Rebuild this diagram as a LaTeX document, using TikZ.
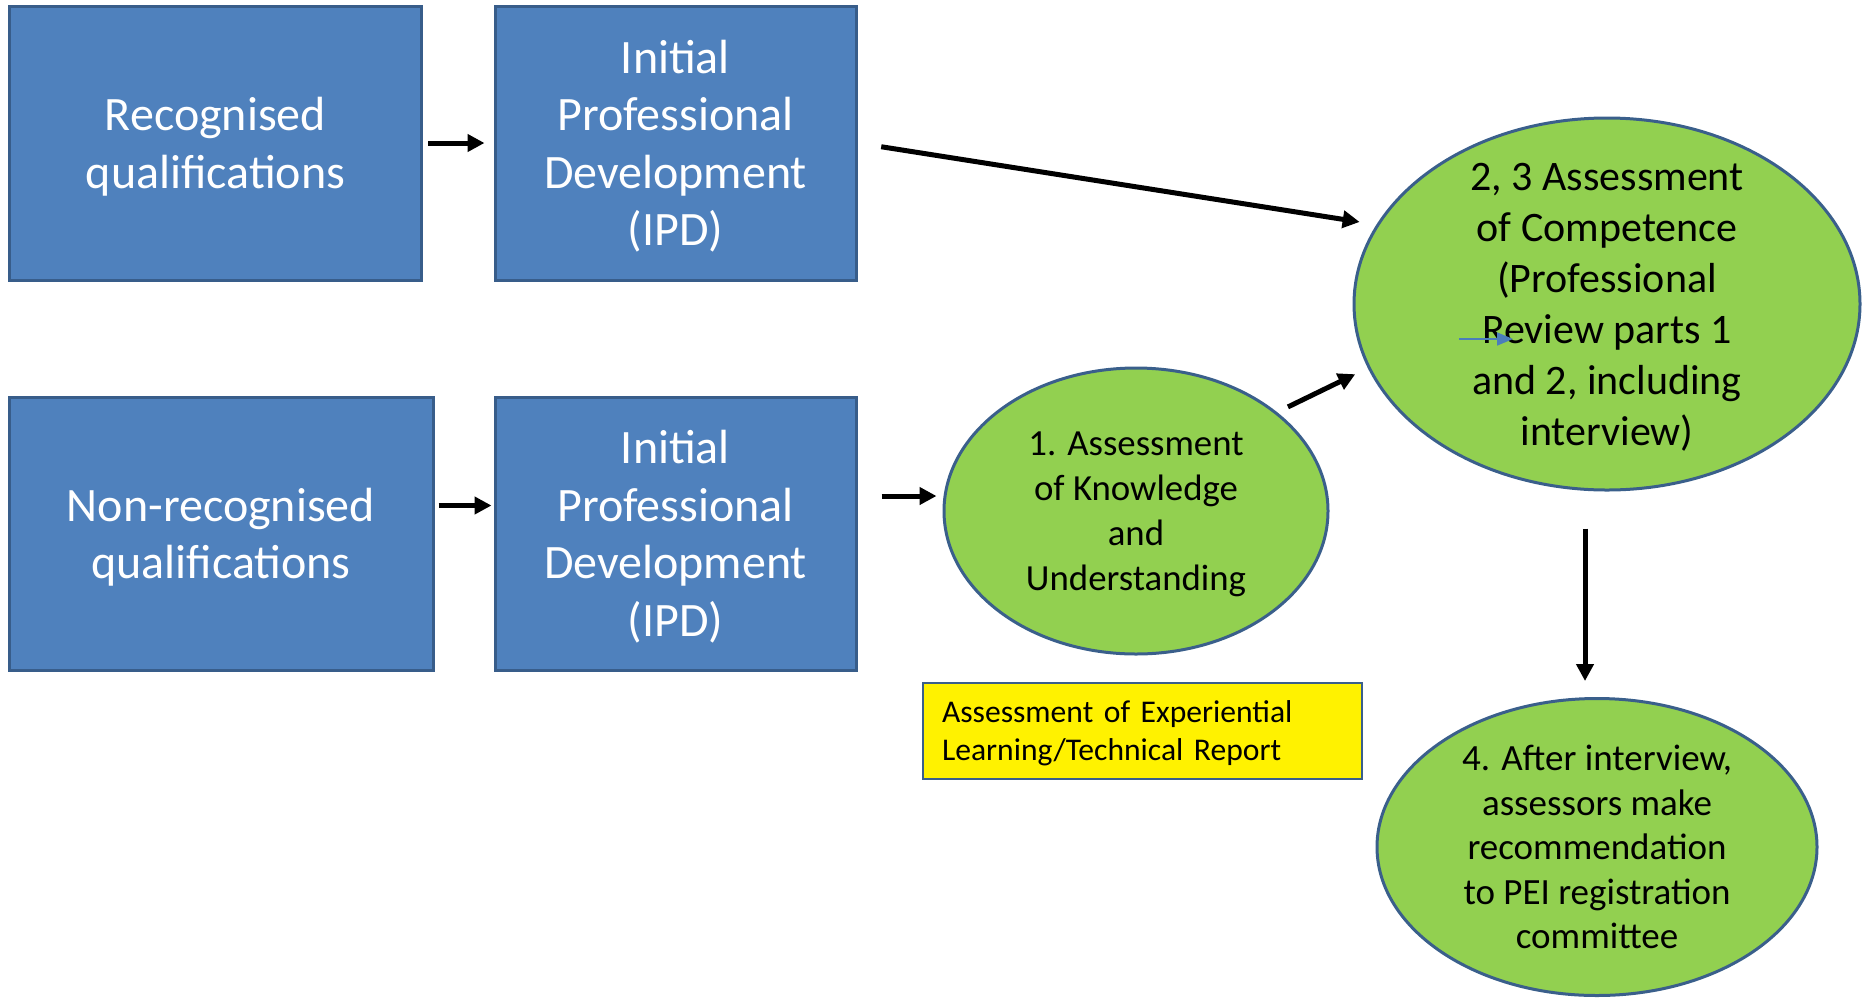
\documentclass[tikz,border=0pt]{standalone}
\usepackage{fontspec}
\setmainfont{Carlito}
\usetikzlibrary{arrows.meta,shapes.geometric}
\definecolor{boxblue}{HTML}{4F81BD}
\definecolor{edgeblue}{HTML}{385D8A}
\definecolor{ovalgreen}{HTML}{92D050}
\definecolor{ovaledge}{HTML}{3A5F8B}
\definecolor{strayblue}{HTML}{4A7EBB}
\newcommand{\lastln}[1]{\raisebox{0pt}[\height][0pt]{#1}}
\begin{document}
\begin{tikzpicture}[x=0.5pt, y=-0.5pt, >={Triangle[length=8.5pt,width=8.5pt]},
	qbox/.style={draw=edgeblue, line width=1.5pt, fill=boxblue, text=white, align=center, inner sep=0pt, font=\fontsize{24}{28.75}\selectfont},
	oval/.style={ellipse, draw=ovaledge, line width=1.5pt, fill=ovalgreen, align=center, inner sep=-14pt},
	arr/.style={->, line width=2.5pt}]
	\useasboundingbox (0,0) rectangle (1862,997);
	\node[qbox, minimum width=206pt, minimum height=137pt] (rq) at (215.5,143) {Recognised\\\lastln{qualifications}};
	\node[qbox, minimum width=180.5pt, minimum height=137pt] (ipd1) at (675.5,143) {Initial\\Professional\\Development\\\lastln{(IPD)}};
	\node[qbox, minimum width=212pt, minimum height=136.5pt] (nrq) at (221,533.5) {Non-recognised\\\lastln{qualifications}};
	\node[qbox, minimum width=180.5pt, minimum height=136.5pt] (ipd2) at (675.5,533.5) {Initial\\Professional\\Development\\\lastln{(IPD)}};
	\node[oval, minimum width=192pt, minimum height=143pt, font=\fontsize{18.4}{22.5}\selectfont] (e1) at (1136,511) {1. Assessment\\of Knowledge\\and\\\lastln{Understanding}};
	\node[oval, minimum width=253pt, minimum height=186pt, font=\fontsize{21}{25.5}\selectfont] (e2) at (1607,304) {2, 3 Assessment\\of Competence\\(Professional\\Review parts 1\\and 2, including\\\lastln{interview)}};
	\node[oval, minimum width=220pt, minimum height=148.5pt, font=\fontsize{18.5}{22.25}\selectfont] (e3) at (1597,847) {4. After interview,\\assessors make\\recommendation\\to PEI registration\\committee};
	\node[draw=ovaledge, line width=0.8pt, fill=yellow, align=left, inner xsep=9.5pt, inner ysep=0pt, text width=200.5pt, minimum height=48pt, font=\fontsize{15.8}{19}\selectfont] (ael) at (1142.5,731) {Assessment of Experiential\\\lastln{Learning/Technical Report}};
	\draw[arr, shorten <=2.7pt, shorten >=4.5pt] (rq.east) -- (ipd1.west);
	\draw[arr, shorten <=12pt, shorten >=8.5pt] (ipd1.east) -- (e2.161);
	\draw[arr, shorten <=2pt, shorten >=1pt] ([yshift=14pt]nrq.east) -- ([yshift=14pt]ipd2.west);
	\draw[arr, shorten <=12pt, shorten >=3pt] ([yshift=18.75pt]ipd2.east) -- ([yshift=7.5pt]e1.west);
	\draw[arr, shorten <=6pt, shorten >=7pt] (e1.35) -- (e2.195);
	\draw[arr, shorten <=18.5pt, shorten >=8pt] ([xshift=-11pt]e2.south) -- ([xshift=-11pt]e2.south |- e3.north);
	\coordinate (s1) at ([shift={(-74pt,-17.5pt)}]e2.center);
	\coordinate (s2) at ([shift={(-47pt,-17.5pt)}]e2.center);
	\draw[-{Triangle[length=8pt,width=6.5pt]}, strayblue, line width=0.8pt] (s1) -- (s2);
\end{tikzpicture}
\end{document}
